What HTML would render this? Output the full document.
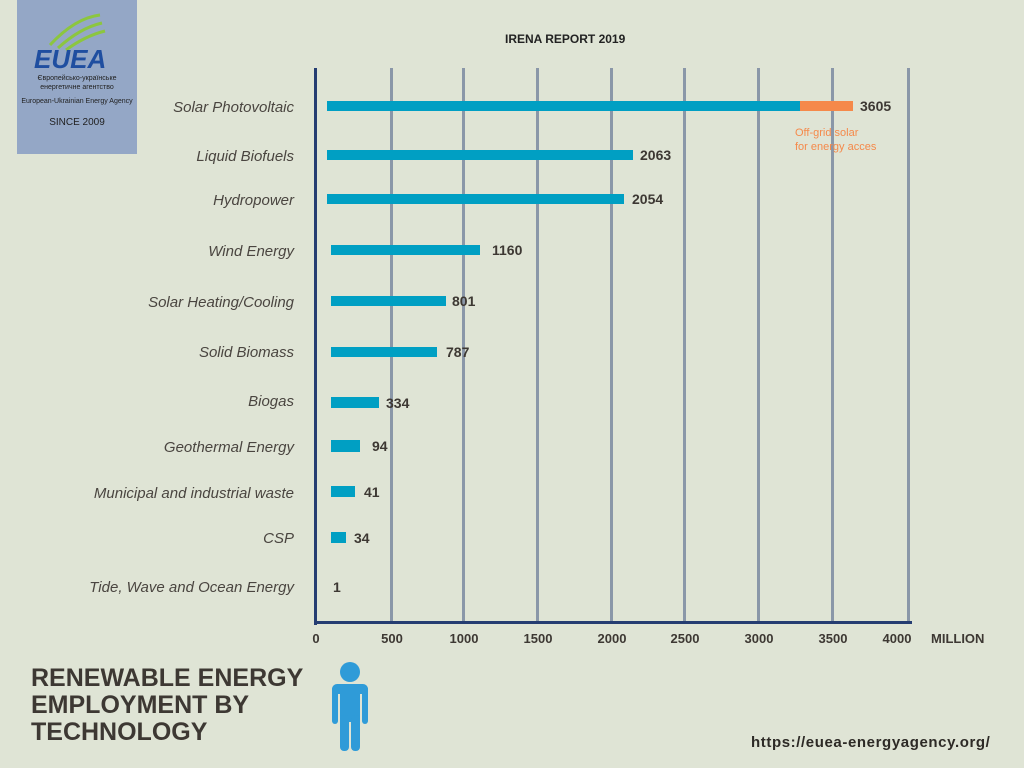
<!DOCTYPE html>
<html><head><meta charset="utf-8"><style>
body{margin:0;width:1024px;height:768px;background:#dfe4d5;position:relative;overflow:hidden;font-family:"Liberation Sans",sans-serif}
.a{position:absolute}
.lab{position:absolute;right:730px;font-style:italic;font-size:15px;color:#4a4540;white-space:nowrap;margin-top:2px}
.bar{position:absolute;background:#009fc3;height:10px}
.val{position:absolute;font-weight:bold;font-size:14px;color:#3d3833}
.grid{position:absolute;top:68px;width:3px;height:555px;background:#8a97a8}
.tick{position:absolute;top:631px;font-weight:bold;font-size:13px;color:#3d3833;transform:translateX(-50%)}
</style></head><body>
<div class="a" style="left:17px;top:0;width:120px;height:154px;background:#94a7c6"></div>
<svg class="a" style="left:30px;top:10px" width="100" height="60">
<path d="M20 35 Q45 8 70 5" stroke="#8cc63f" stroke-width="3" fill="none"/>
<path d="M28 38 Q50 18 72 13" stroke="#8cc63f" stroke-width="3" fill="none"/>
<path d="M36 40 Q55 26 75 21" stroke="#8cc63f" stroke-width="3" fill="none"/>
<text x="4" y="58" font-family="Liberation Sans" font-weight="bold" font-style="italic" font-size="26" fill="#1f4ea0">EUEA</text>
</svg>
<div class="a" style="left:17px;width:120px;top:74px;text-align:center;font-size:7px;color:#222;line-height:9px">Європейсько-українське<br>енергетичне агентство</div>
<div class="a" style="left:17px;width:120px;top:98px;text-align:center;font-size:7px;color:#222">European-Ukrainian Energy Agency</div>
<div class="a" style="left:17px;width:120px;top:117px;text-align:center;font-size:10px;color:#222">SINCE 2009</div>
<div class="a" style="left:505px;top:32px;font-weight:bold;font-size:12px;color:#222">IRENA REPORT 2019</div>
<div class="grid" style="left:390px"></div><div class="grid" style="left:462px"></div><div class="grid" style="left:536px"></div><div class="grid" style="left:610px"></div><div class="grid" style="left:683px"></div><div class="grid" style="left:757px"></div><div class="grid" style="left:831px"></div><div class="grid" style="left:907px"></div>
<div class="a" style="left:314px;top:68px;width:3px;height:557px;background:#253d72"></div>
<div class="a" style="left:314px;top:621px;width:598px;height:3px;background:#253d72"></div>
<div class="tick" style="left:316px">0</div><div class="tick" style="left:392px">500</div><div class="tick" style="left:464px">1000</div><div class="tick" style="left:538px">1500</div><div class="tick" style="left:612px">2000</div><div class="tick" style="left:685px">2500</div><div class="tick" style="left:759px">3000</div><div class="tick" style="left:833px">3500</div><div class="tick" style="left:897px">4000</div>
<div class="a" style="left:931px;top:631px;font-weight:bold;font-size:13px;color:#3d3833">MILLION</div>

<div class="lab" style="top:97px">Solar Photovoltaic</div>
<div class="bar" style="left:327px;top:101px;width:473px"></div><div class="bar" style="left:800px;top:101px;width:53px;background:#f5894a"></div>
<div class="val" style="left:860px;top:98px">3605</div>
<div class="a" style="left:795px;top:126px;font-size:11px;color:#f5894a;line-height:14px">Off-grid solar<br>for energy acces</div>

<div class="lab" style="top:146px">Liquid Biofuels</div><div class="bar" style="left:327px;top:150px;width:306px"></div><div class="val" style="left:640px;top:147px">2063</div>
<div class="lab" style="top:190px">Hydropower</div><div class="bar" style="left:327px;top:194px;width:297px"></div><div class="val" style="left:632px;top:191px">2054</div>
<div class="lab" style="top:241px">Wind Energy</div><div class="bar" style="left:331px;top:245px;width:149px"></div><div class="val" style="left:492px;top:242px">1160</div>
<div class="lab" style="top:292px">Solar Heating/Cooling</div><div class="bar" style="left:331px;top:296px;width:115px"></div><div class="val" style="left:452px;top:293px">801</div>
<div class="lab" style="top:342px">Solid Biomass</div><div class="bar" style="left:331px;top:347px;width:106px"></div><div class="val" style="left:446px;top:344px">787</div>
<div class="lab" style="top:391px">Biogas</div><div class="bar" style="left:331px;top:397px;width:48px;height:11px"></div><div class="val" style="left:386px;top:395px">334</div>
<div class="lab" style="top:437px">Geothermal Energy</div><div class="bar" style="left:331px;top:440px;width:29px;height:12px"></div><div class="val" style="left:372px;top:438px">94</div>
<div class="lab" style="top:483px">Municipal and industrial waste</div><div class="bar" style="left:331px;top:486px;width:24px;height:11px"></div><div class="val" style="left:364px;top:484px">41</div>
<div class="lab" style="top:528px">CSP</div><div class="bar" style="left:331px;top:532px;width:15px;height:11px"></div><div class="val" style="left:354px;top:530px">34</div>
<div class="lab" style="top:577px">Tide, Wave and Ocean Energy</div><div class="val" style="left:333px;top:579px">1</div>

<div class="a" style="left:31px;top:665px;font-weight:bold;font-size:25px;line-height:27px;color:#3d3833;letter-spacing:0">RENEWABLE ENERGY<br>EMPLOYMENT BY<br>TECHNOLOGY</div>
<svg class="a" style="left:330px;top:660px" width="40" height="92">
<circle cx="20" cy="12" r="10" fill="#2f9bd8"/>
<rect x="2" y="24" width="36" height="10" rx="5" fill="#2f9bd8"/>
<rect x="2" y="26" width="6" height="38" rx="3" fill="#2f9bd8"/>
<rect x="32" y="26" width="6" height="38" rx="3" fill="#2f9bd8"/>
<rect x="10" y="26" width="20" height="36" fill="#2f9bd8"/>
<rect x="10" y="55" width="9" height="36" rx="4" fill="#2f9bd8"/>
<rect x="21" y="55" width="9" height="36" rx="4" fill="#2f9bd8"/>
</svg>
<div class="a" style="left:751px;top:734px;font-weight:bold;font-size:15px;letter-spacing:0.6px;color:#2d2a26">https://euea-energyagency.org/</div>
</body></html>
